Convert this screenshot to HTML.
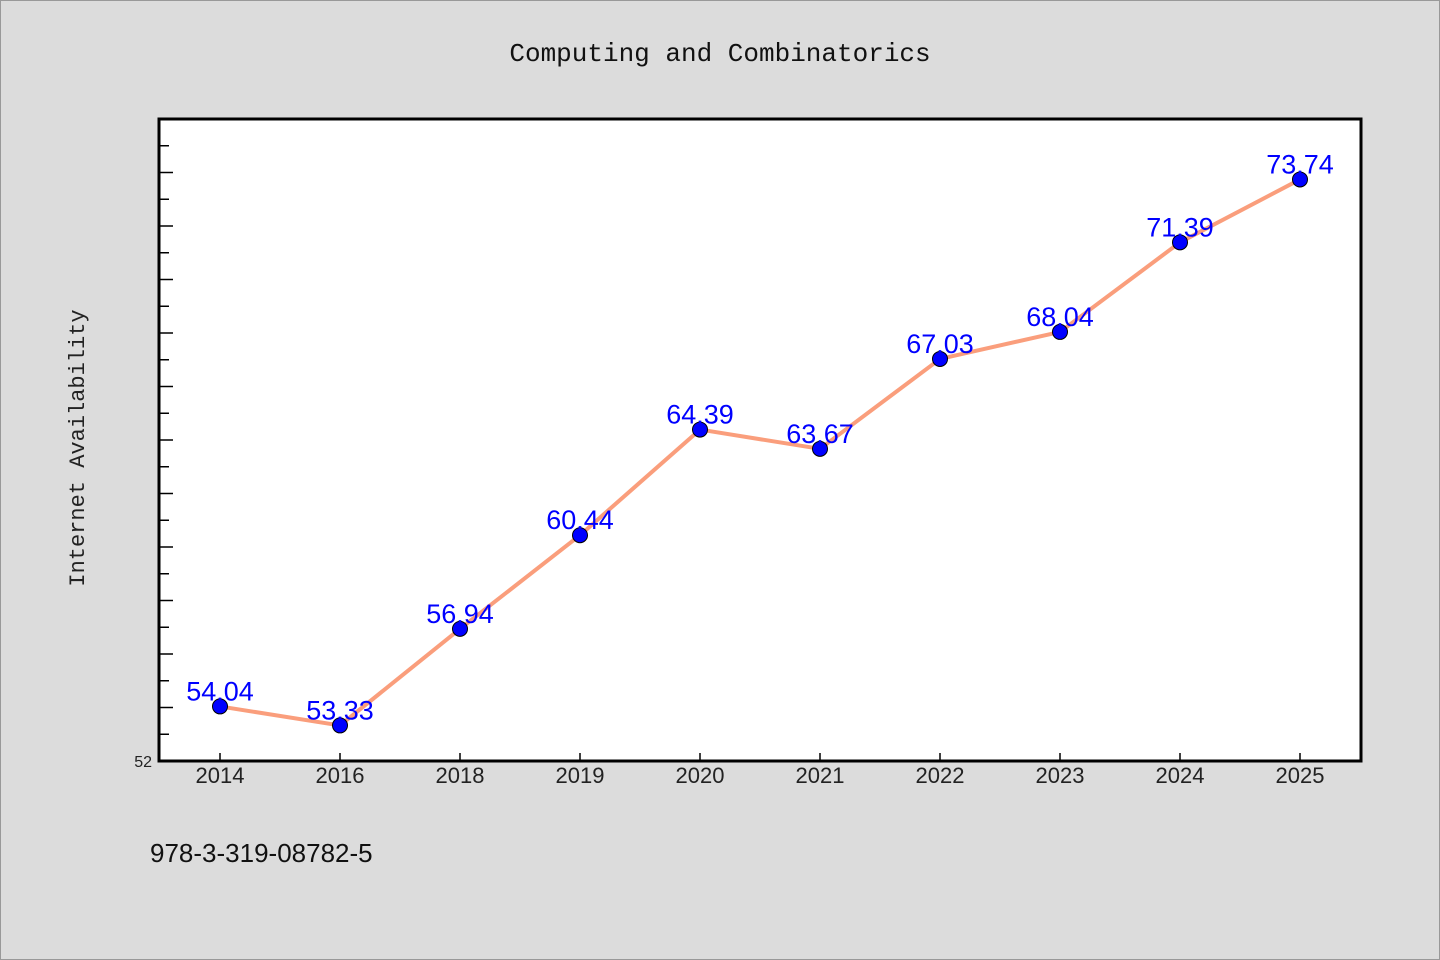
<!DOCTYPE html>
<html><head><meta charset="utf-8"><style>
html,body{margin:0;padding:0;background:#dcdcdc;}
svg{display:block;}
</style></head><body>
<svg width="1440" height="960" xmlns="http://www.w3.org/2000/svg" id="svg">
<rect x="0.5" y="0.5" width="1439" height="959" fill="#dcdcdc" stroke="#999"/>
<text x="720" y="61" text-anchor="middle" font-family="'Liberation Mono',monospace" font-size="26" fill="#111">Computing and Combinatorics</text>
<rect x="159" y="119" width="1202" height="642" fill="#fff" stroke="#000" stroke-width="3"/>
<text transform="translate(84,448) rotate(-90)" text-anchor="middle" font-family="'Liberation Mono',monospace" font-size="22" fill="#222">Internet Availability</text>
<text x="150" y="862" font-family="'Liberation Sans',sans-serif" font-size="26" fill="#111">978-3-319-08782-5</text>
<g id="ticks"></g><g id="marks"></g>
</svg>
<script>
const categories=["2014","2016","2018","2019","2020","2021","2022","2023","2024","2025"];
const values=[54.04,53.33,56.94,60.44,64.39,63.67,67.03,68.04,71.39,73.74];
const yMin=52,yMax=76;
const L=159,R=1361,T=119,B=761;
const ns="http://www.w3.org/2000/svg";
function y(v){return B-(v-yMin)/(yMax-yMin)*(B-T);}
function x(i){return 220+i*120;}
function mk(t,a,p){const e=document.createElementNS(ns,t);for(const k in a)e.setAttribute(k,a[k]);p.appendChild(e);return e;}
const tk=document.getElementById('ticks'),mg=document.getElementById('marks');
for(let v=yMin+1;v<yMax;v++){
 const t=mk('line',{x1:L,x2:L+((v%2===0)?14:10),y1:y(v),y2:y(v),stroke:'#000','stroke-width':1.5},tk);
 
 
}
const yl=mk('text',{x:152,y:767,'text-anchor':'end','font-family':"'Liberation Sans',sans-serif",'font-size':16,fill:'#222'},tk);
yl.textContent=String(yMin);


categories.forEach((c,i)=>{
 const l=mk('line',{x1:x(i),x2:x(i),y1:B,y2:B-8,stroke:'#000','stroke-width':1.5},tk);
 
 
 const t=mk('text',{x:x(i),y:783,'text-anchor':'middle','font-family':"'Liberation Sans',sans-serif",'font-size':22,fill:'#222'},tk);
 t.textContent=c;
 
 
});
const line=mk('polyline',{points:values.map((v,i)=>x(i)+','+y(v)).join(' '),fill:'none',stroke:'#fa9e7c','stroke-width':4,'stroke-linejoin':'round'},mg);


values.forEach((v,i)=>{
 const c=mk('circle',{cx:x(i),cy:y(v),r:7.5,fill:'#0000ff',stroke:'#000','stroke-width':1},mg);
 
 
 const t=mk('text',{x:x(i),y:y(v)-6,'text-anchor':'middle','font-family':"'Liberation Sans',sans-serif",'font-size':27,fill:'#0000ff'},mg);
 t.textContent=v.toFixed(2);
 
 
});
</script>
</body></html>
